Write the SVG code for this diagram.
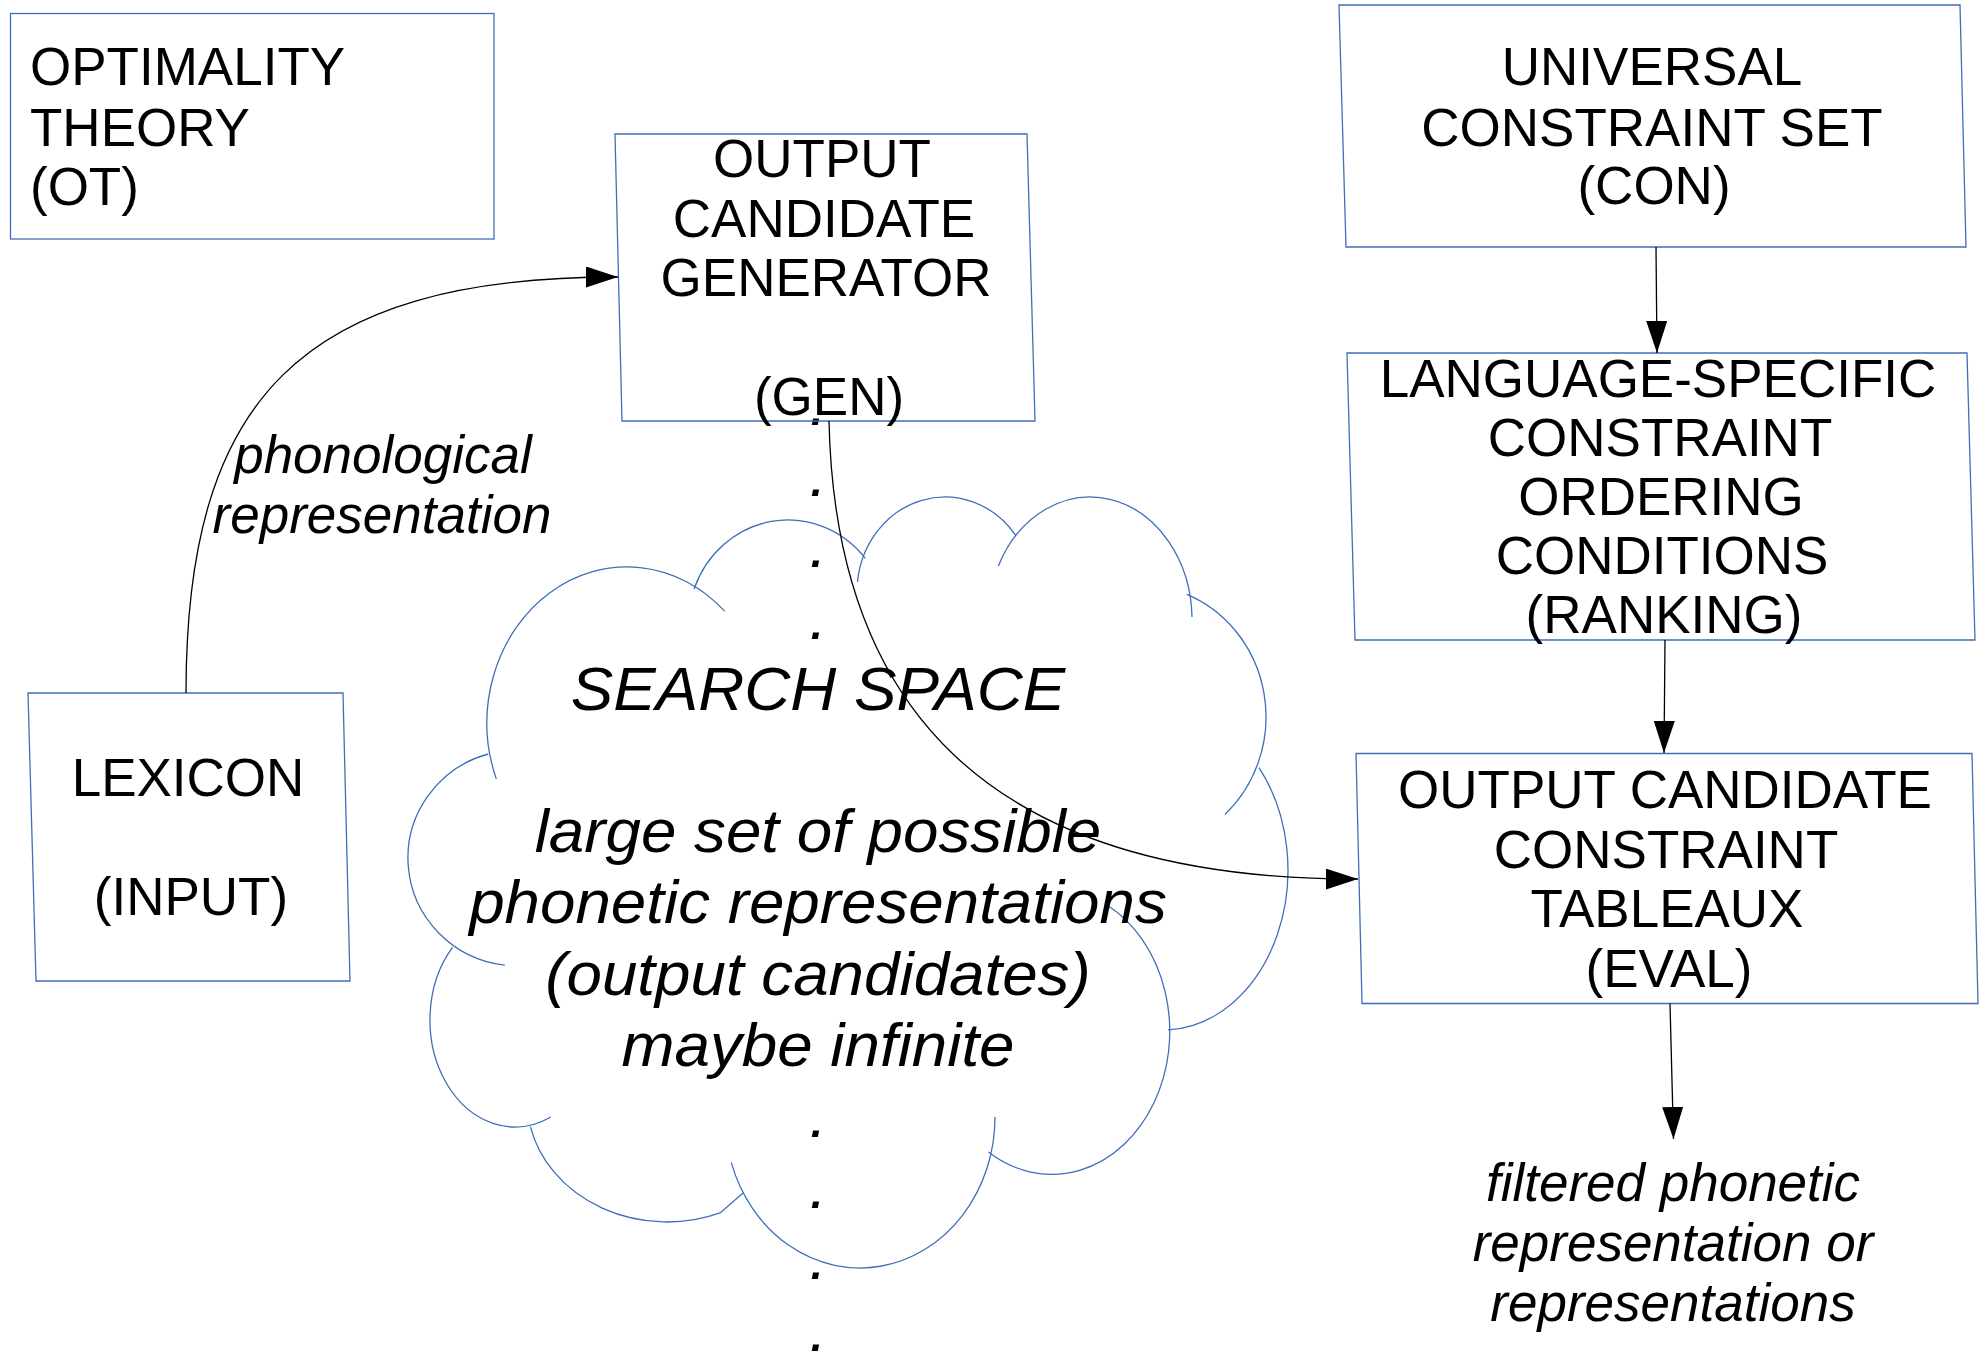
<svg xmlns="http://www.w3.org/2000/svg" width="1979" height="1352" viewBox="0 0 1979 1352">
<style>
.box{fill:none;stroke:#3f6fb6;stroke-width:1.3}
.t{font-family:"Liberation Sans",Arial,sans-serif;font-size:53px;fill:#000}
.c{text-anchor:middle}
.i{font-style:italic}
.big{font-size:61.5px}
.con{fill:none;stroke:#000;stroke-width:1.3}
.cloud{fill:none;stroke:#3f6fb6;stroke-width:1.3}
</style>
<defs>
<marker id="ah" viewBox="0 0 32 21" refX="32" refY="10.5" markerWidth="32" markerHeight="21" markerUnits="userSpaceOnUse" orient="auto">
<path d="M0,0 L32,10.5 L0,21 z" fill="#000"/>
</marker>
</defs>
<rect width="1979" height="1352" fill="#fff"/>

<g id="cloud">
<path class="cloud" d="M496.3,778.9 A140,156 0 0,1 724.6,611.1 M694.1,589 A100,105 0 0,1 865.3,558.3 M857.5,581.9 A88,95 0 0,1 1015.5,535.1 M998.4,565.9 A102,123 0 0,1 1192,617 M1186.8,594.4 A126,132 0 0,1 1224.8,814.6 M1259,767.6 A125,160 0 0,1 1168,1029.9 M1107,905 A118,143 0 1,1 988.4,1152 M995,1117 A135,151 0 0,1 731.3,1162.6 M743,1193 L720.1,1212.9 A140,122 0 0,1 530.4,1126.6 M550.8,1117 A85,107 0 0,1 452.5,947.4 M504.8,965.2 A110,108 0 0,1 488.2,754"/>
<text class="t c i big" transform="matrix(1.036,0,0,1,-29.45,0)"><tspan x="818" y="425">.</tspan><tspan x="818" y="496.2">.</tspan><tspan x="818" y="567.4">.</tspan><tspan x="818" y="638.6">.</tspan><tspan x="818" y="709.8">SEARCH SPACE</tspan><tspan x="818" y="852.2">large set of possible</tspan><tspan x="818" y="923.4">phonetic representations</tspan><tspan x="818" y="994.6">(output candidates)</tspan><tspan x="818" y="1065.8">maybe infinite</tspan><tspan x="818" y="1137">.</tspan><tspan x="818" y="1208.2">.</tspan><tspan x="818" y="1279.4">.</tspan><tspan x="818" y="1350.6">.</tspan></text>
</g>

<g id="ot">
<rect class="box" x="10.5" y="13.5" width="483.5" height="225.5"/>
<text class="t"><tspan x="30" y="85">OPTIMALITY</tspan><tspan x="30" y="145.5">THEORY</tspan><tspan x="30" y="205">(OT)</tspan></text>
</g>

<g id="gen">
<polygon class="box" points="615,134 1027,134 1035,421 622,421"/>
<text class="t c"><tspan x="822" y="177">OUTPUT</tspan><tspan x="824" y="236.5">CANDIDATE</tspan><tspan x="826" y="296">GENERATOR</tspan><tspan x="829" y="415">(GEN)</tspan></text>
</g>

<g id="con">
<polygon class="box" points="1339,5 1960,5 1966,247 1346,247"/>
<text class="t c"><tspan x="1652" y="85">UNIVERSAL</tspan><tspan x="1652" y="145.5">CONSTRAINT SET</tspan><tspan x="1654" y="204">(CON)</tspan></text>
</g>

<g id="ranking">
<polygon class="box" points="1347,353 1967,353 1975,640 1355,640"/>
<text class="t c"><tspan x="1658" y="397">LANGUAGE-SPECIFIC</tspan><tspan x="1660" y="456">CONSTRAINT</tspan><tspan x="1661" y="515">ORDERING</tspan><tspan x="1662" y="574">CONDITIONS</tspan><tspan x="1664" y="633">(RANKING)</tspan></text>
</g>

<g id="eval">
<polygon class="box" points="1356,753.5 1972,753.5 1978,1003.5 1362,1003.5"/>
<text class="t c"><tspan x="1665" y="808">OUTPUT CANDIDATE</tspan><tspan x="1666" y="868">CONSTRAINT</tspan><tspan x="1667" y="927">TABLEAUX</tspan><tspan x="1669" y="987">(EVAL)</tspan></text>
</g>

<g id="lexicon">
<polygon class="box" points="28,693 343,693 350,981 36,981"/>
<text class="t c"><tspan x="188" y="796">LEXICON</tspan><tspan x="191" y="915">(INPUT)</tspan></text>
</g>

<g id="output">
<text class="t c i"><tspan x="1673" y="1200.5">filtered phonetic</tspan><tspan x="1673" y="1261">representation or</tspan><tspan x="1673" y="1321">representations</tspan></text>
</g>

<g id="connectors">
<path class="con" d="M186,693 C186,400 300,277 618,277" marker-end="url(#ah)"/>
<text class="t c i"><tspan x="383" y="473">phonological</tspan><tspan x="382" y="533">representation</tspan></text>
<path class="con" d="M829,421 C835,700 980,880 1358,879" marker-end="url(#ah)"/>
<path class="con" d="M1656,247 L1657,353" marker-end="url(#ah)"/>
<path class="con" d="M1665,640 L1664,753" marker-end="url(#ah)"/>
<path class="con" d="M1670,1003.5 L1673.5,1139" marker-end="url(#ah)"/>
</g>
</svg>
